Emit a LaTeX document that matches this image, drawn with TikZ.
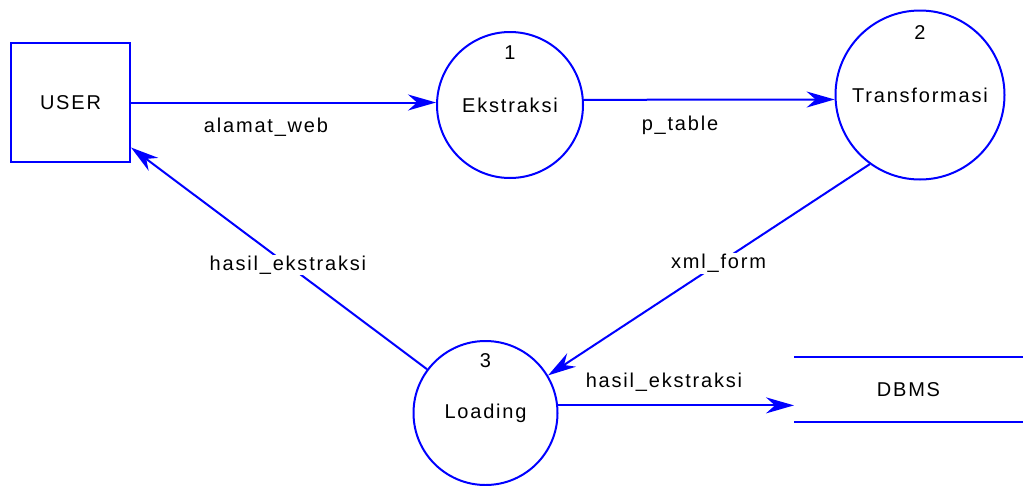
\documentclass[tikz,border=0pt]{standalone}
\usepackage{fontspec}
\setmainfont{Liberation Sans}[LetterSpace=9]
\usetikzlibrary{arrows.meta}

\begin{document}
\begin{tikzpicture}[x=1pt, y=-1pt, line width=2pt,
  every node/.style={font=\fontsize{20}{24}\selectfont},
  flow/.style={draw=blue, -{Stealth[length=28pt, width=16pt, inset=9pt]}},
  proc/.style={draw=blue, circle, inner sep=0pt},
  ent/.style={draw=blue, minimum width=119pt, minimum height=119pt},
  onlbl/.style={fill=white, inner sep=1pt}]
\useasboundingbox (0,0) rectangle (1023,485);

% entities and processes
\node[ent] (user) at (70.5,102.5) {USER};
\node[proc, minimum size=146pt] (ekstraksi) at (510,105) {Ekstraksi};
\node (n1) at (510,53) {1};
\node[proc, minimum size=169pt] (transformasi) at (920,95) {Transformasi};
\node (n2) at (920,33) {2};
\node[proc, minimum size=144pt] (loading) at (485.5,413) {Loading};
\node (n3) at (485.5,361) {3};

% data store
\node[minimum width=227pt, minimum height=63pt] (dbms) at (908.5,389.5) {DBMS};
\draw[blue] (dbms.north west) -- (dbms.north east);
\draw[blue] (dbms.south west) -- (dbms.south east);

% flows
\draw[flow] (user.east) -- (user.east -| ekstraksi.west);
\node (alamat) at (266,127) {alamat\_web};
\draw[flow] (ekstraksi.4) -- (transformasi.183);
\node (ptable) at (680,125) {p\_table};
\draw[flow] (transformasi.234) -- node[onlbl, pos=0.47] (xmlform) {xml\_form} (loading.31);
\draw[flow] (loading) -- node[onlbl, pos=0.47] (hasil1) {hasil\_ekstraksi} (user);
\draw[flow] (loading.6) -- (loading.6 -| dbms.west);
\node (hasil2) at (664,382) {hasil\_ekstraksi};
\end{tikzpicture}
\end{document}
